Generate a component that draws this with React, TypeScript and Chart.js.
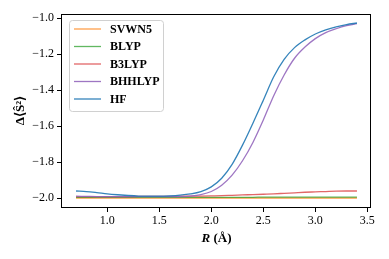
import React, { useEffect, useRef } from "react";
import { Chart, registerables } from "chart.js";

Chart.register(...registerables);

const W = 389;
const H = 259;
const FONT = '"Liberation Serif", "Times New Roman", serif';

const rValues = [
  0.7, 0.8, 0.9, 1.0, 1.1, 1.2, 1.3, 1.4, 1.5, 1.6, 1.7, 1.8, 1.9, 2.0,
  2.1, 2.2, 2.3, 2.4, 2.5, 2.6, 2.7, 2.8, 2.9, 3.0, 3.1, 3.2, 3.3, 3.4,
];

const seriesNames = ["SVWN5", "BLYP", "B3LYP", "BHHLYP", "HF"];
const seriesColors = [
  "rgba(255,127,14,0.75)",
  "rgba(44,160,44,0.75)",
  "rgba(214,39,40,0.7)",
  "rgba(148,103,189,0.9)",
  "rgba(31,119,180,0.9)",
];

const svwn5 = [
  -1.999, -1.999, -1.999, -1.999, -1.999, -1.999, -1.999, -1.999, -1.999, -1.999,
  -1.999, -1.999, -1.999, -1.999, -1.999, -1.999, -1.999, -1.999, -1.999, -1.999,
  -1.999, -1.999, -1.999, -1.999, -1.999, -1.999, -1.999, -1.999,
];
const blyp = [
  -1.995, -1.995, -1.995, -1.995, -1.995, -1.995, -1.995, -1.995, -1.995, -1.995,
  -1.995, -1.995, -1.995, -1.995, -1.995, -1.995, -1.995, -1.995, -1.994, -1.994,
  -1.994, -1.994, -1.994, -1.994, -1.994, -1.994, -1.994, -1.994,
];
const b3lyp = [
  -1.991, -1.991, -1.991, -1.991, -1.991, -1.991, -1.990, -1.990, -1.990, -1.990,
  -1.989, -1.989, -1.988, -1.987, -1.986, -1.984, -1.982, -1.980, -1.978, -1.976,
  -1.973, -1.970, -1.967, -1.965, -1.963, -1.961, -1.960, -1.960,
];
const bhhlyp = [
  -1.989, -1.990, -1.991, -1.991, -1.991, -1.991, -1.991, -1.991, -1.991, -1.991,
  -1.991, -1.988, -1.980, -1.963, -1.928, -1.872, -1.792, -1.690, -1.565, -1.430,
  -1.315, -1.222, -1.160, -1.113, -1.080, -1.058, -1.041, -1.030,
];
const hf = [
  -1.960, -1.963, -1.969, -1.976, -1.981, -1.985, -1.988, -1.989, -1.989, -1.987,
  -1.983, -1.976, -1.963, -1.937, -1.889, -1.812, -1.705, -1.583, -1.455, -1.325,
  -1.228, -1.163, -1.120, -1.087, -1.064, -1.047, -1.035, -1.026,
];

const xTicks = [1.0, 1.5, 2.0, 2.5, 3.0, 3.5];
const yTicks = [-2.0, -1.8, -1.6, -1.4, -1.2, -1.0];
const xTitleItalic = "R";
const xTitleRest = " (Å)";
const yTitle = "Δ⟨Ŝ²⟩";

export default function App() {
  const ref = useRef<HTMLCanvasElement>(null);

  useEffect(() => {
    if (!ref.current) return;
    const seriesValues = [svwn5, blyp, b3lyp, bhhlyp, hf];

    const decorPlugin = {
      id: "decor",
      afterDraw(chart: any) {
        const { ctx, chartArea: a } = chart;
        ctx.save();
        // frame (four spines)
        ctx.strokeStyle = "#000";
        ctx.lineWidth = 1;
        const x0 = Math.round(a.left) - 0.5;
        const y0 = Math.round(a.top) + 0.5;
        const x1 = Math.round(a.right) - 0.5;
        const y1 = Math.round(a.bottom) + 0.5;
        ctx.strokeRect(x0, y0, x1 - x0, y1 - y0);

        // legend
        const lx = 69.5, ly = 20.5, lw = 94, lh = 91;
        ctx.beginPath();
        if ((ctx as any).roundRect) (ctx as any).roundRect(lx, ly, lw, lh, 3);
        else ctx.rect(lx, ly, lw, lh);
        ctx.fillStyle = "rgba(255,255,255,0.85)";
        ctx.fill();
        ctx.strokeStyle = "#d0d0d0";
        ctx.lineWidth = 1;
        ctx.stroke();
        ctx.font = `bold 12px ${FONT}`;
        ctx.textBaseline = "middle";
        ctx.textAlign = "left";
        seriesNames.forEach((name, i) => {
          const yy = 29 + i * 17.5;
          ctx.beginPath();
          ctx.moveTo(74, yy);
          ctx.lineTo(101, yy);
          ctx.strokeStyle = seriesColors[i];
          ctx.lineWidth = 1.3;
          ctx.stroke();
          ctx.fillStyle = "#000";
          ctx.fillText(name, 110, yy + 0.5);
        });

        // x title
        ctx.fillStyle = "#000";
        ctx.textBaseline = "alphabetic";
        const fi = `italic bold 13px ${FONT}`;
        const fb = `bold 13px ${FONT}`;
        ctx.font = fi;
        const w1 = ctx.measureText(xTitleItalic).width;
        ctx.font = fb;
        const w2 = ctx.measureText(xTitleRest).width;
        const cx = (a.left + a.right) / 2;
        const sx = cx - (w1 + w2) / 2;
        ctx.font = fi;
        ctx.fillText(xTitleItalic, sx, 242);
        ctx.font = fb;
        ctx.fillText(xTitleRest, sx + w1, 242);

        // y title
        ctx.save();
        ctx.translate(24, (a.top + a.bottom) / 2);
        ctx.rotate(-Math.PI / 2);
        ctx.font = `bold 13px ${FONT}`;
        ctx.textAlign = "center";
        ctx.textBaseline = "alphabetic";
        ctx.fillText(yTitle, 0, 0);
        ctx.restore();

        ctx.restore();
      },
    };

    const chart = new Chart(ref.current, {
      type: "line",
      data: {
        datasets: seriesNames.map((name, i) => ({
          label: name,
          data: rValues.map((r, j) => ({ x: r, y: seriesValues[i][j] })),
          borderColor: seriesColors[i],
          backgroundColor: seriesColors[i],
          borderWidth: 1.3,
          pointRadius: 0,
          fill: false,
          cubicInterpolationMode: "monotone" as const,
          order: 5 - i,
        })),
      },
      options: {
        responsive: false,
        animation: false,
        maintainAspectRatio: false,
        devicePixelRatio: 1,
        layout: { padding: { left: 0, top: 14, right: 18, bottom: 0 } },
        plugins: {
          legend: { display: false },
          tooltip: { enabled: false },
        },
        scales: {
          x: {
            type: "linear",
            min: 0.565,
            max: 3.535,
            afterBuildTicks: (s: any) => {
              s.ticks = xTicks.map((v) => ({ value: v }));
            },
            afterFit: (s: any) => {
              s.height = 52;
            },
            ticks: {
              color: "#000",
              font: { family: FONT, size: 12 },
              padding: 2,
              maxRotation: 0,
              autoSkip: false,
              callback: (v: any) => Number(v).toFixed(1),
            },
            grid: {
              drawOnChartArea: false,
              drawTicks: true,
              tickLength: 5,
              color: "#000",
              lineWidth: 1,
            },
            border: { display: false },
          },
          y: {
            type: "linear",
            min: -2.049,
            max: -0.976,
            afterBuildTicks: (s: any) => {
              s.ticks = yTicks.map((v) => ({ value: v }));
            },
            afterFit: (s: any) => {
              s.width = 62;
            },
            ticks: {
              color: "#000",
              font: { family: FONT, size: 12 },
              padding: 3,
              autoSkip: false,
              callback: (v: any) => Number(v).toFixed(1).replace("-", "\u2212"),
            },
            grid: {
              drawOnChartArea: false,
              drawTicks: true,
              tickLength: 5,
              color: "#000",
              lineWidth: 1,
            },
            border: { display: false },
          },
        },
      },
      plugins: [decorPlugin],
    });

    return () => chart.destroy();
  }, []);

  return (
    <div style={{ position: "absolute", left: 0, top: 0, width: W, height: H }}>
      <canvas ref={ref} width={W} height={H} style={{ width: W, height: H, display: "block" }} />
    </div>
  );
}
